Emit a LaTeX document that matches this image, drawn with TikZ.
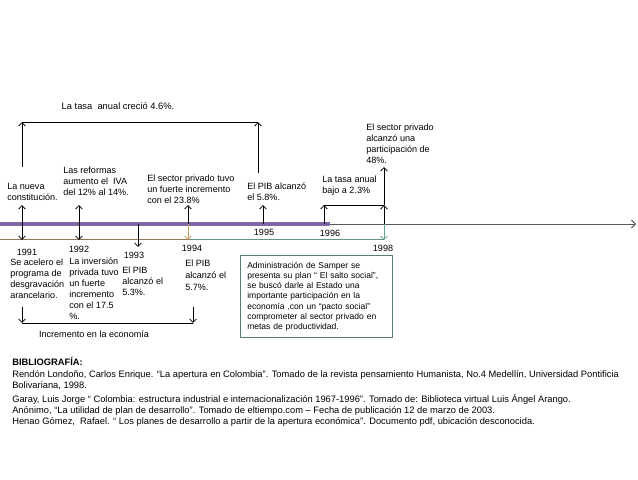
\documentclass[tikz,border=0pt]{standalone}
\usepackage{fontspec}
\setmainfont{Liberation Sans}
\usetikzlibrary{arrows.meta}
\definecolor{axisgray}{RGB}{90,90,90}
\definecolor{bandpurple}{RGB}{128,104,166}
\definecolor{brownline}{RGB}{140,120,85}
\definecolor{greenline}{RGB}{95,150,125}
\definecolor{arrbrown}{RGB}{195,155,100}
\definecolor{arrgreen}{RGB}{100,160,135}
\definecolor{boxgreen}{RGB}{85,130,105}
\begin{document}
\begin{tikzpicture}[x=0.75pt,y=-0.75pt,
  txt/.style={font=\fontsize{6.8}{8.2}\selectfont, inner sep=0pt, align=left, anchor=base west},
  yr/.style={font=\fontsize{6.8}{8.2}\selectfont, inner sep=0pt},
  bib/.style={font=\fontsize{7}{8.2}\selectfont, inner sep=0pt, anchor=base west},
  arr/.style={-{Straight Barb[length=2.6pt,width=5pt]}, line width=0.6pt, black},
  ln/.style={line width=0.6pt, black}]
\useasboundingbox[fill=white] (0,0) rectangle (638,479);

% axis
\coordinate (ax0) at (0,224);
\coordinate (axE) at (636,224);
\coordinate (bandE) at (330,224);
\draw[axisgray, line width=0.7pt, -{Straight Barb[length=3pt,width=6pt]}] (ax0) -- (axE);
\draw[bandpurple, line width=3.3pt] (ax0) -- (bandE);
\coordinate (l0) at (0,239);
\coordinate (l94) at (190,239);
\coordinate (l98) at (384,239);
\draw[brownline, line width=0.7pt] (l0) -- (l94);
\draw[greenline, line width=0.7pt] (l94) -- (l98);

% axis points
\coordinate (p91) at (22,224);
\coordinate (p92) at (79,224);
\coordinate (p93) at (138,224);
\coordinate (p94) at (188,224);
\coordinate (p95) at (263,224);
\coordinate (p96) at (324,224);
\coordinate (p98) at (384,224);

% upper texts (anchor = baseline of last line)
\node[txt, anchor=base, font=\fontsize{7}{8.2}\selectfont] (tasa) at (118,109) {La tasa~ anual creció 4.6\%.};
\node[txt] (nueva) at (7,200) {La nueva\\constitución.};
\node[txt] (reformas) at (63,195) {Las reformas\\aumento el~ IVA\\del 12\% al 14\%.};
\node[txt] (privado) at (147,203) {El sector privado tuvo\\un fuerte incremento\\con el 23.8\%};
\node[txt] (pib58) at (247,200) {El PIB alcanzó\\el 5.8\%.};
\node[txt] (baja) at (322,193) {La tasa anual\\bajo a 2.3\%};
\node[txt] (part) at (366,163) {El sector privado\\alcanzó una\\participación de\\48\%.};

% years
\node[yr] (y91) at (27,252) {1991};
\node[yr] (y92) at (79,249) {1992};
\node[yr] (y93) at (134,255) {1993};
\node[yr] (y94) at (192,248) {1994};
\node[yr] (y95) at (264,232) {1995};
\node[yr] (y96) at (330,233) {1996};
\node[yr] (y98) at (383,248) {1998};

% lower texts
\node[txt] (desg) at (10,298) {Se acelero el\\programa de\\desgravación\\arancelario.};
\node[txt] (inv) at (69,319) {La inversión\\privada tuvo\\un fuerte\\incremento\\con el 17.5\\\%.};
\node[txt] (pib53) at (122,295) {El PIB\\alcanzó el\\5.3\%.};
\node[txt, font=\fontsize{6.8}{9}\selectfont] (pib57) at (185,290) {El PIB\\alcanzó el\\5.7\%.};
\node[txt, anchor=base] (incr) at (94,337) {Incremento en la economía};

\node[draw=boxgreen, line width=0.9pt, anchor=north west, inner xsep=5pt, inner ysep=4pt,
      minimum width=114pt, minimum height=61.5pt, text width=104pt, align=left,
      font=\fontsize{6.4}{7.65}\selectfont] (samper) at (240,255)
  {Administración de Samper se\\presenta su plan “ El salto social”,\\se buscó darle al Estado una\\importante participación en la\\economía ,con un “pacto social”\\comprometer al sector privado en\\metas de productividad.};

% arrows above axis
\coordinate (u91) at (22,205);
\coordinate (u92) at (79,205);
\coordinate (u94) at (188,205);
\coordinate (u95) at (263,205);
\coordinate (u96) at (324,205);
\coordinate (u98) at (384,205);
\draw[arr] (p91) -- (u91);
\draw[arr] (p92) -- (u92);
\draw[arr] (p94) -- (u94);
\draw[arr] (p95) -- (u95);
\draw[arr] (p96) -- (u96);
\draw[arr] (p98) -- (u98);
\draw[ln] (u96) -- (u98);
\coordinate (t98) at (384,167);
\draw[arr] (u98) -- (t98);

% arrows below axis
\coordinate (d91) at (22,240);
\coordinate (d92) at (79,240);
\coordinate (d93) at (138,247);
\coordinate (d94) at (188,240);
\coordinate (d98) at (384,240);
\draw[arr] (p91) -- (d91);
\draw[arr] (p92) -- (d92);
\draw[arr] (p93) -- (d93);
\draw[arr, arrbrown] (p94) -- (d94);
\draw[arr, arrgreen] (p98) -- (d98);

% top bracket
\coordinate (tb1s) at (22,167);
\coordinate (tb1) at (22,122);
\coordinate (tb2s) at (258,173);
\coordinate (tb2) at (258,122);
\draw[ln] (tb1) -- (tb2);
\draw[arr] (tb1s) -- (tb1);
\draw[arr] (tb2s) -- (tb2);

% bottom bracket
\coordinate (bb1s) at (22,307);
\coordinate (bb1) at (22,323);
\coordinate (bb2s) at (193,307);
\coordinate (bb2) at (193,323);
\draw[ln] (bb1) -- (bb2);
\draw[arr] (bb1s) -- (bb1);
\draw[arr] (bb2s) -- (bb2);

% bibliography
\node[bib, font=\fontsize{7}{8.2}\selectfont\bfseries] (bibh) at (12,365) {BIBLIOGRAFÍA:};
\node[bib] (bib1) at (12,377) {Rendón Londoño, Carlos Enrique. “La apertura en Colombia”. Tomado de la revista pensamiento Humanista, No.4 Medellín, Universidad Pontificia};
\node[bib] (bib2) at (12,388) {Bolivariana, 1998.};
\node[bib] (bib3) at (12,402) {Garay, Luis Jorge “ Colombia: estructura industrial e internacionalización 1967-1996”. Tomado de: Biblioteca virtual Luis Ángel Arango.};
\node[bib] (bib4) at (12,413) {Anónimo, “La utilidad de plan de desarrollo”. Tomado de eltiempo.com – Fecha de publicación 12 de marzo de 2003.};
\node[bib] (bib5) at (12,424) {Henao Gómez,~ Rafael. “ Los planes de desarrollo a partir de la apertura económica”. Documento pdf, ubicación desconocida.};
\end{tikzpicture}
\end{document}
